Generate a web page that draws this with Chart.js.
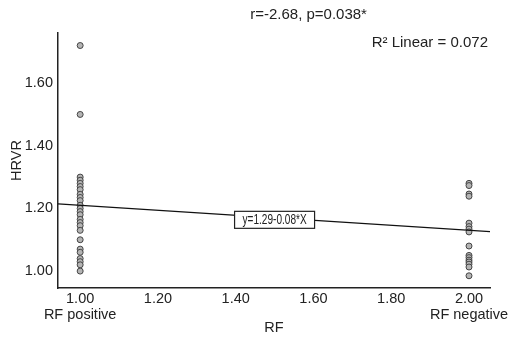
<!DOCTYPE html>
<html>
<head>
<meta charset="utf-8">
<script src="https://cdn.jsdelivr.net/npm/chart.js@4/dist/chart.umd.min.js"></script>
<style>
  html, body { margin: 0; padding: 0; background: #fff; }
  #wrap { width: 513px; height: 339px; position: relative; }
</style>
</head>
<body>
<div id="wrap"><canvas id="c" width="513" height="339"></canvas></div>
<script>
// ---- data ----
const rfPositiveX = [1,1,1,1,1,1,1,1,1,1,1,1,1,1,1,1,1,1,1,1,1,1,1,1,1];
const rfPositiveY = [1.72,1.50,1.30,1.29,1.28,1.27,1.26,1.245,1.235,1.225,1.21,1.20,1.19,1.18,1.165,1.155,1.145,1.13,1.10,1.07,1.06,1.04,1.03,1.02,1.00];
const rfNegativeX = [2,2,2,2,2,2,2,2,2,2,2,2,2,2,2,2];
const rfNegativeY = [1.28,1.273,1.246,1.239,1.153,1.142,1.134,1.125,1.08,1.05,1.043,1.035,1.029,1.022,1.013,0.985];
const fitIntercept = 1.29;
const fitSlope = -0.08;
const xTicks = [1.0,1.2,1.4,1.6,1.8,2.0];
const yTicks = [1.0,1.2,1.4,1.6];
const xCategoryLabels = {1: 'RF positive', 2: 'RF negative'};
const xRange = [0.943, 2.054];
const yRange = [0.946, 1.76];
const titleText = 'r=-2.68, p=0.038*';
const r2Text = 'R\u00B2 Linear = 0.072';
const eqText = 'y=1.29-0.08*X';
const xTitle = 'RF';
const yTitle = 'HRVR';

const FONT = '"Liberation Sans", Arial, Helvetica, sans-serif';
const TXT = '#222';

const toPts = (xs, ys) => xs.map((x, i) => ({x: x, y: ys[i]}));
const fitLine = xRange.map(x => ({x: x, y: fitIntercept + fitSlope * x}));

const annot = {
  id: 'annot',
  afterDatasetsDraw(chart) {
    const ctx = chart.ctx;
    const xs = chart.scales.x, ys = chart.scales.y;
    const ca = chart.chartArea;
    ctx.save();
    // equation box on the fit line
    const ex = 1.5;
    const px = xs.getPixelForValue(ex);
    const py = ys.getPixelForValue(fitIntercept + fitSlope * ex) + 2;
    const bw = 80, bh = 17;
    ctx.fillStyle = '#fff';
    ctx.fillRect(px - bw / 2, py - bh / 2, bw, bh);
    ctx.strokeStyle = '#222';
    ctx.lineWidth = 1.2;
    ctx.strokeRect(px - bw / 2, py - bh / 2, bw, bh);
    ctx.save();
    ctx.translate(px, py + 0.5);
    ctx.scale(0.72, 1);
    ctx.font = '14px ' + FONT;
    ctx.fillStyle = TXT;
    ctx.textAlign = 'center';
    ctx.textBaseline = 'middle';
    ctx.fillText(eqText, 0, 0);
    ctx.restore();
    // title and R² text
    ctx.font = '15px ' + FONT;
    ctx.fillStyle = TXT;
    ctx.textBaseline = 'middle';
    ctx.textAlign = 'center';
    ctx.fillText(titleText, ca.left + (ca.right - ca.left) * 0.58, 15);
    ctx.textAlign = 'right';
    ctx.fillText(r2Text, ca.right - 2, ca.top + 10);
    ctx.restore();
  }
};

new Chart(document.getElementById('c'), {
  type: 'scatter',
  data: {
    datasets: [
      {
        label: 'RF positive',
        data: toPts(rfPositiveX, rfPositiveY),
        pointRadius: 3,
        pointBackgroundColor: '#b4b4b4',
        pointBorderColor: '#444',
        pointBorderWidth: 1
      },
      {
        label: 'RF negative',
        data: toPts(rfNegativeX, rfNegativeY),
        pointRadius: 3,
        pointBackgroundColor: '#b4b4b4',
        pointBorderColor: '#444',
        pointBorderWidth: 1
      },
      {
        type: 'line',
        label: 'fit',
        data: fitLine,
        borderColor: '#111',
        borderWidth: 1.2,
        pointRadius: 0,
        fill: false,
        order: -1
      }
    ]
  },
  options: {
    responsive: false,
    animation: false,
    devicePixelRatio: 1,
    layout: { padding: { top: 33, right: 23, left: 0, bottom: 0 } },
    plugins: { legend: { display: false }, tooltip: { enabled: false }, title: { display: false } },
    scales: {
      x: {
        type: 'linear',
        min: xRange[0], max: xRange[1],
        afterFit(s) { s.height = 51; },
        afterBuildTicks(s) { s.ticks = xTicks.map(v => ({value: v})); },
        grid: { display: false, drawTicks: false },
        border: { display: true, color: '#222', width: 1.5 },
        ticks: {
          padding: 3,
          color: TXT,
          font: { family: FONT, size: 14.5, lineHeight: 1.12 },
          maxRotation: 0,
          autoSkip: false,
          callback(v) {
            const t = Number(v).toFixed(2);
            const extra = xCategoryLabels[Math.round(v * 100) / 100];
            return extra && Math.abs(v - Math.round(v)) < 1e-9 ? [t, extra] : t;
          }
        },
        title: {
          display: true, text: xTitle, color: TXT,
          font: { family: FONT, size: 14.5 },
          padding: { top: 0, bottom: 2 }
        }
      },
      y: {
        type: 'linear',
        min: yRange[0], max: yRange[1],
        afterFit(s) { s.width = 58; },
        afterBuildTicks(s) { s.ticks = yTicks.map(v => ({value: v})); },
        grid: { display: false, drawTicks: false },
        border: { display: true, color: '#222', width: 1.5 },
        ticks: {
          padding: 5,
          color: TXT,
          font: { family: FONT, size: 14.5 },
          callback(v) { return Number(v).toFixed(2); }
        },
        title: {
          display: true, text: yTitle, color: TXT,
          font: { family: FONT, size: 14.5 },
          padding: { top: 8, bottom: 8 }
        }
      }
    }
  },
  plugins: [annot]
});
</script>
</body>
</html>
